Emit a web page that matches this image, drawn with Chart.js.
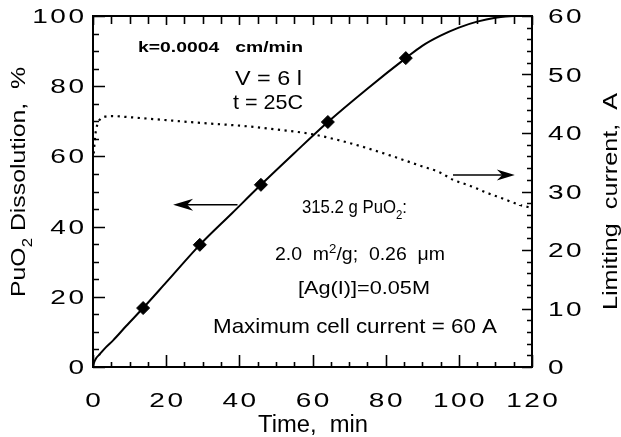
<!DOCTYPE html>
<html><head><meta charset="utf-8">
<script src="https://cdn.jsdelivr.net/npm/chart.js@4/dist/chart.umd.min.js"></script>
<style>html,body{margin:0;padding:0;background:#fff}canvas{display:block}</style>
</head><body>
<canvas id="c" width="621" height="437"></canvas>
<script>
// ---- data ----
const timeSolid = [0, 0.3, 0.8, 1.9, 3.5, 5.5, 9, 13.7, 20, 29.2, 38, 45.9, 55, 64.2, 75, 85.5, 90, 95, 100, 105, 110, 115, 120];
const dissolutionSolid = [0, 1.3, 2.4, 3.7, 5.6, 7.6, 11.6, 16.8, 24.1, 34.8, 43.8, 51.9, 60.9, 69.8, 79.3, 88.0, 91.5, 94.4, 96.7, 98.4, 99.5, 100, 100];
const markerTime = [13.7, 29.2, 45.9, 64.2, 85.5];
const markerDissolution = [16.8, 34.8, 51.9, 69.8, 88.0];
const timeCurrent = [0.2, 0.6, 1.2, 2, 3.3, 5, 10, 20, 30, 43, 50, 59, 67, 75, 82, 89, 95, 98.4, 103, 107.6, 112, 116.7, 120];
const limitingCurrent = [36.5, 39.5, 41.5, 42.4, 42.8, 42.9, 42.7, 42.2, 41.7, 41.1, 40.6, 39.9, 38.8, 37.4, 36.0, 34.5, 33.2, 32.0, 31.0, 29.8, 28.8, 27.7, 27.2];
const xTickLabels = [0, 20, 40, 60, 80, 100, 120];
const leftTickLabels = [0, 20, 40, 60, 80, 100];
const rightTickLabels = [0, 10, 20, 30, 40, 50, 60];

const FAMILY = '"Liberation Sans", Arial, Helvetica, sans-serif';

function richWidth(ctx, segs, size, bold) {
  let w = 0;
  for (const s of segs) {
    const fs = (s.sub || s.sup) ? size * 0.68 : size;
    ctx.font = (bold ? 'bold ' : '') + fs + 'px ' + FAMILY;
    w += ctx.measureText(s.t).width;
  }
  return w;
}
function drawRich(ctx, segs, o) {
  ctx.save();
  ctx.translate(o.x, o.y);
  if (o.rotate) ctx.rotate(o.rotate);
  const nat = richWidth(ctx, segs, o.size, o.bold);
  const sx = o.width ? o.width / nat : 1;
  ctx.scale(sx, 1);
  let x0 = o.align === 'center' ? -nat / 2 : (o.align === 'right' ? -nat : 0);
  ctx.textAlign = 'left';
  ctx.textBaseline = 'alphabetic';
  ctx.fillStyle = '#000';
  for (const s of segs) {
    const fs = (s.sub || s.sup) ? o.size * 0.68 : o.size;
    ctx.font = (o.bold ? 'bold ' : '') + fs + 'px ' + FAMILY;
    const dy = s.sub ? o.size * 0.32 : (s.sup ? -o.size * 0.4 : 0);
    ctx.fillText(s.t, x0, dy);
    x0 += ctx.measureText(s.t).width;
  }
  ctx.restore();
}
function tickText(ctx, str, x, yBase, align) {
  const sx = 1.4, sp = 2.5;
  ctx.font = '20px ' + FAMILY;
  ctx.textAlign = 'left';
  ctx.textBaseline = 'alphabetic';
  ctx.fillStyle = '#000';
  const chars = [...String(str)];
  const ws = chars.map(c => ctx.measureText(c).width * sx);
  const total = ws.reduce((a, b) => a + b, 0) + sp * (chars.length - 1);
  let cx = align === 'right' ? x - total : (align === 'center' ? x - total / 2 : x);
  chars.forEach((c, i) => {
    ctx.save(); ctx.translate(cx, yBase); ctx.scale(sx, 1); ctx.fillText(c, 0, 0); ctx.restore();
    cx += ws[i] + sp;
  });
}

const annotations = [
  {segs: [{t: 'k=0.0004   cm/min'}], x: 138, y: 52, size: 14, bold: true, width: 165},
  {segs: [{t: 'V = 6 l'}], x: 235, y: 85, size: 21, width: 67},
  {segs: [{t: 't = 25C'}], x: 233, y: 109, size: 21, width: 70},
  {segs: [{t: '315.2 g PuO'}, {t: '2', sub: true}, {t: ':'}], x: 302, y: 213, size: 18, width: 105},
  {segs: [{t: '2.0  m'}, {t: '2', sup: true}, {t: '/g;  0.26  \u03bcm'}], x: 275, y: 260, size: 18, width: 170},
  {segs: [{t: '[Ag(I)]=0.05M'}], x: 298, y: 294, size: 18, width: 132},
  {segs: [{t: 'Maximum cell current = 60 A'}], x: 213, y: 333, size: 21, width: 284}
];
const arrows = [
  {axis: 'y', from: [39.5, 46.2], to: [21.9, 46.2], head: 20, half: 6},
  {axis: 'y1', from: [98.4, 32.8], to: [115.3, 32.8], head: 18, half: 5.5}
];

const decor = {
  id: 'decor',
  beforeDraw(chart) {
    const ctx = chart.ctx;
    ctx.save(); ctx.fillStyle = '#fff'; ctx.fillRect(0, 0, chart.width, chart.height); ctx.restore();
  },
  afterDatasetsDraw(chart) {
    const ctx = chart.ctx, a = chart.chartArea;
    const sx = chart.scales.x, sy = chart.scales.y, sy1 = chart.scales.y1;
    ctx.save();
    ctx.strokeStyle = '#000';
    ctx.lineWidth = 2;
    ctx.strokeRect(a.left, a.top, a.right - a.left, a.bottom - a.top);
    ctx.lineWidth = 1.6;
    ctx.beginPath();
    for (let v = 0; v <= 120; v += 5) {
      const p = Math.round(sx.getPixelForValue(v)) + 0.5;
      const major = v % 20 === 0;
      ctx.moveTo(p, a.bottom); ctx.lineTo(p, a.bottom - (major ? 12 : 5));
      ctx.moveTo(p, a.top); ctx.lineTo(p, a.top + (major ? 9 : 8));
    }
    for (let v = 0; v <= 100; v += 5) {
      const p = Math.round(sy.getPixelForValue(v)) + 0.5;
      const major = v % 20 === 0;
      ctx.moveTo(a.left, p); ctx.lineTo(a.left + (major ? 12 : 6), p);
    }
    for (let v = 0; v <= 60; v += 2) {
      const p = Math.round(sy1.getPixelForValue(v)) + 0.5;
      const major = v % 10 === 0;
      ctx.moveTo(a.right, p); ctx.lineTo(a.right - (major ? 10 : 5), p);
    }
    ctx.stroke();

    for (const ar of arrows) {
      const ys = chart.scales[ar.axis];
      const x1 = sx.getPixelForValue(ar.from[0]), y1 = ys.getPixelForValue(ar.from[1]);
      const x2 = sx.getPixelForValue(ar.to[0]), y2 = ys.getPixelForValue(ar.to[1]);
      const dir = Math.sign(x2 - x1);
      ctx.lineWidth = 1.5;
      ctx.beginPath(); ctx.moveTo(x1, y1); ctx.lineTo(x2 - dir * ar.head * 0.6, y2); ctx.stroke();
      ctx.fillStyle = '#000';
      ctx.beginPath();
      ctx.moveTo(x2, y2);
      ctx.lineTo(x2 - dir * ar.head, y2 - ar.half);
      ctx.lineTo(x2 - dir * ar.head * 0.7, y2);
      ctx.lineTo(x2 - dir * ar.head, y2 + ar.half);
      ctx.closePath(); ctx.fill();
    }

    for (const t of sx.ticks) tickText(ctx, t.value, sx.getPixelForValue(t.value), 407, 'center');
    for (const t of sy.ticks) tickText(ctx, t.value, 84, sy.getPixelForValue(t.value) + 7, 'right');
    for (const t of sy1.ticks) tickText(ctx, t.value, 548, sy1.getPixelForValue(t.value) + 7, 'left');

    drawRich(ctx, [{t: 'Time,  min'}], {x: 313, y: 432, size: 23, width: 110, align: 'center'});
    drawRich(ctx, [{t: 'PuO'}, {t: '2', sub: true}, {t: ' Dissolution,  %'}], {x: 25, y: 182, size: 21, width: 230, align: 'center', rotate: -Math.PI / 2});
    drawRich(ctx, [{t: 'Limiting  current,  A'}], {x: 617, y: 201.5, size: 21, width: 217, align: 'center', rotate: -Math.PI / 2});

    for (const an of annotations) drawRich(ctx, an.segs, {x: an.x, y: an.y, size: an.size, bold: an.bold, width: an.width, align: 'left'});
    ctx.restore();
  }
};

const xy = (xs, ys) => xs.map((x, i) => ({x, y: ys[i]}));

new Chart(document.getElementById('c'), {
  type: 'line',
  data: {
    datasets: [
      {data: xy(timeSolid, dissolutionSolid), yAxisID: 'y', borderColor: '#000', borderWidth: 2, pointRadius: 0, cubicInterpolationMode: 'monotone', fill: false},
      {data: xy(markerTime, markerDissolution), yAxisID: 'y', showLine: false, pointStyle: 'rectRot', pointRadius: 6.5, backgroundColor: '#000', borderColor: '#000', borderWidth: 1},
      {data: xy(timeCurrent, limitingCurrent), yAxisID: 'y1', borderColor: '#000', borderWidth: 2.2, borderDash: [2.2, 4.5], pointRadius: 0, cubicInterpolationMode: 'monotone', fill: false}
    ]
  },
  options: {
    responsive: false,
    animation: false,
    devicePixelRatio: 1,
    layout: {padding: {top: 16, left: 0, right: 0, bottom: 0}},
    plugins: {legend: {display: false}, tooltip: {enabled: false}},
    scales: {
      x: {type: 'linear', min: 0, max: 120, grid: {display: false, drawTicks: false}, border: {display: false},
          ticks: {display: false},
          afterBuildTicks: s => { s.ticks = xTickLabels.map(v => ({value: v})); },
          afterFit: s => { s.height = 70; }},
      y: {type: 'linear', position: 'left', min: 0, max: 100, grid: {display: false, drawTicks: false}, border: {display: false},
          ticks: {display: false},
          afterBuildTicks: s => { s.ticks = leftTickLabels.map(v => ({value: v})); },
          afterFit: s => { s.width = 93; }},
      y1: {type: 'linear', position: 'right', min: 0, max: 60, grid: {display: false, drawTicks: false}, border: {display: false},
          ticks: {display: false},
          afterBuildTicks: s => { s.ticks = rightTickLabels.map(v => ({value: v})); },
          afterFit: s => { s.width = 89; }}
    }
  },
  plugins: [decor]
});
</script>
</body></html>
